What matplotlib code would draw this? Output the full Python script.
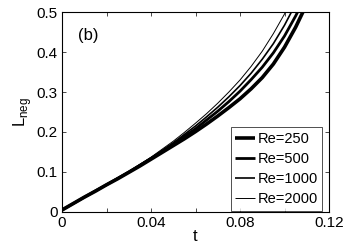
import matplotlib
matplotlib.use("Agg")
import matplotlib.pyplot as plt

plt.rcParams['font.family'] = ['Liberation Sans', 'DejaVu Sans']

t = [0.0, 0.005, 0.01, 0.015, 0.02, 0.025, 0.03, 0.035, 0.04, 0.045, 0.05,
     0.055, 0.06, 0.065, 0.07, 0.075, 0.08, 0.085, 0.09, 0.095, 0.10, 0.105, 0.11]

L_re250 = [0.005, 0.021, 0.037, 0.052, 0.068, 0.083, 0.099, 0.115, 0.132, 0.149, 0.166,
           0.183, 0.201, 0.220, 0.240, 0.261, 0.283, 0.308, 0.336, 0.370, 0.412, 0.462, 0.520]
L_re500 = [0.005, 0.021, 0.037, 0.053, 0.068, 0.084, 0.100, 0.117, 0.134, 0.151, 0.170,
           0.189, 0.208, 0.230, 0.252, 0.276, 0.302, 0.331, 0.362, 0.398, 0.440, 0.490, 0.545]
L_re1000 = [0.005, 0.021, 0.037, 0.053, 0.069, 0.085, 0.100, 0.118, 0.135, 0.154, 0.173,
            0.194, 0.215, 0.238, 0.262, 0.288, 0.316, 0.347, 0.382, 0.421, 0.467, 0.520, 0.575]
L_re2000 = [0.005, 0.021, 0.037, 0.053, 0.069, 0.085, 0.101, 0.119, 0.137, 0.157, 0.177,
            0.199, 0.222, 0.246, 0.272, 0.300, 0.330, 0.364, 0.402, 0.446, 0.495, 0.550, 0.610]

labels = ['Re=250', 'Re=500', 'Re=1000', 'Re=2000']
series = [L_re250, L_re500, L_re1000, L_re2000]
widths = [2.6, 2.0, 1.2, 0.7]

xticks = [0, 0.02, 0.04, 0.06, 0.08, 0.10, 0.12]
xticklabels = ['0', '', '0.04', '', '0.08', '', '0.12']
yticks = [0, 0.1, 0.2, 0.3, 0.4, 0.5]
yticklabels = ['0', '0.1', '0.2', '0.3', '0.4', '0.5']

fig = plt.figure(figsize=(3.49, 2.49), dpi=100)
ax = fig.add_axes([0.1777, 0.1486, 0.765, 0.8032])

for y, lab, lw in zip(series, labels, widths):
    ax.plot(t, y, color='black', lw=lw, label=lab, solid_capstyle='butt')

ax.set_xlim(0, 0.12)
ax.set_ylim(0, 0.5)
ax.set_xticks(xticks)
ax.set_xticklabels(xticklabels)
ax.set_yticks(yticks)
ax.set_yticklabels(yticklabels)
ax.tick_params(direction='in', length=3, width=0.5, top=True, right=True,
               labelsize=11, pad=3, colors='black')
for s in ax.spines.values():
    s.set_linewidth(0.8)

ax.set_xlabel('t', fontsize=12, labelpad=-1)
ax.set_ylabel(r'L$_{\mathregular{neg}}$', fontsize=12, labelpad=2)
ax.text(0.007, 0.43, '(b)', fontsize=12)

leg = ax.legend(loc='lower right', fontsize=10.5, frameon=True, fancybox=False,
                edgecolor='black', handlelength=1.4, handletextpad=0.15,
                borderpad=0.3, labelspacing=0.42, borderaxespad=0.1,
                bbox_to_anchor=(0.98, 0.0))
leg.get_frame().set_linewidth(0.6)

fig.savefig('out.png', dpi=100)
